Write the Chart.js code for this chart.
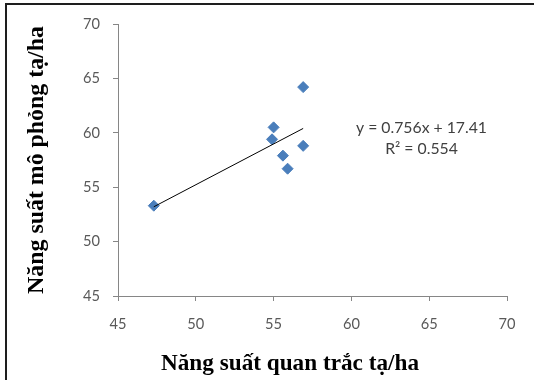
<!DOCTYPE html>
<html><head><meta charset="utf-8">
<script src="https://cdn.jsdelivr.net/npm/chart.js@4"></script>
<style>
html,body{margin:0;padding:0;background:#fff;}
#wrap{position:relative;width:534px;height:380px;overflow:hidden;background:#fff;}
#frame{position:absolute;left:5px;top:3px;width:700px;height:600px;border-left:2px solid #1e1e1e;border-top:2px solid #1e1e1e;pointer-events:none;}
canvas{position:absolute;left:0;top:0;}
</style></head><body>
<div id="wrap"><canvas id="c" width="534" height="380"></canvas><div id="frame"></div></div>
<script>
// Data
const observedYield  = [47.3, 55.0, 54.9, 55.6, 55.9, 56.9, 56.9];   // Năng suất quan trắc (x)
const simulatedYield = [53.3, 60.5, 59.4, 57.9, 56.7, 58.8, 64.2];   // Năng suất mô phỏng (y)
const trendX = [47.3, 56.9];   // trendline end points
const trendY = [53.2, 60.4];
const xTicks = [45, 50, 55, 60, 65, 70];
const yTicks = [45, 50, 55, 60, 65, 70];
const xTitle = 'Năng suất quan trắc tạ/ha';
const yTitle = 'Năng suất mô phỏng tạ/ha';
const equationLines = ['y = 0.756x + 17.41', 'R² = 0.554'];

const points = observedYield.map((x, i) => ({x: x, y: simulatedYield[i]}));
const trend = trendX.map((x, i) => ({x: x, y: trendY[i]}));

const mctx = document.createElement('canvas').getContext('2d');
function fitSize(text, weight, family, target) {
  mctx.font = weight + ' 100px ' + family;
  return 100 * target / mctx.measureText(text).width;
}
const SANS = 'Lato, "Open Sans", sans-serif';
const SERIF = '"Liberation Serif", "DejaVu Serif", serif';
const tickSize = fitSize('45', 'normal', SANS, 17);
const eqSize = fitSize(equationLines[0], 'normal', SANS, 131);
const xTitleSize = fitSize(xTitle, 'bold', SERIF, 258);
const yTitleSize = fitSize(yTitle, 'bold', SERIF, 268);

const axisColor = '#868686';
const labelColor = '#595959';

const annotations = {
  id: 'annotations',
  afterDraw(chart) {
    const ctx = chart.ctx;
    ctx.save();
    ctx.fillStyle = '#404040';
    ctx.font = eqSize.toFixed(2) + 'px ' + SANS;
    ctx.textAlign = 'center';
    ctx.textBaseline = 'middle';
    ctx.fillText(equationLines[0], 421.5, 128);
    ctx.fillText(equationLines[1], 421.5, 149);
    ctx.fillStyle = '#000';
    ctx.font = 'bold ' + xTitleSize.toFixed(2) + 'px ' + SERIF;
    ctx.textBaseline = 'alphabetic';
    ctx.fillText(xTitle, 290, 370);
    ctx.restore();
  }
};

new Chart(document.getElementById('c'), {
  type: 'scatter',
  data: {
    datasets: [
      {
        label: 'trend',
        data: trend,
        showLine: true,
        borderColor: '#000',
        borderWidth: 1,
        pointRadius: 0,
        fill: false,
        order: 0
      },
      {
        label: 'yield',
        data: points,
        pointStyle: 'rectRot',
        pointRadius: 5.5,
        pointHoverRadius: 5.5,
        backgroundColor: '#4A7EBB',
        borderColor: '#4A7EBB',
        borderWidth: 1,
        order: 1
      }
    ]
  },
  options: {
    responsive: false,
    animation: false,
    events: [],
    layout: {padding: {left: 0, top: 24, right: 27, bottom: 0}},
    plugins: {legend: {display: false}, tooltip: {enabled: false}},
    scales: {
      x: {
        type: 'linear',
        min: 45, max: 70,
        afterBuildTicks: s => { s.ticks = xTicks.map(v => ({value: v})); },
        afterFit: s => { s.height = 84; },
        ticks: {color: labelColor, font: {family: SANS, size: tickSize}, padding: 14},
        grid: {display: true, drawOnChartArea: false, drawTicks: true, tickLength: 5, color: axisColor, lineWidth: 1},
        border: {display: true, color: axisColor, width: 1}
      },
      y: {
        type: 'linear',
        min: 45, max: 70,
        afterBuildTicks: s => { s.ticks = yTicks.map(v => ({value: v})); },
        afterFit: s => { s.width = 118; },
        ticks: {color: labelColor, font: {family: SANS, size: tickSize}, padding: 13},
        grid: {display: true, drawOnChartArea: false, drawTicks: true, tickLength: 5, color: axisColor, lineWidth: 1},
        border: {display: true, color: axisColor, width: 1},
        title: {display: true, text: yTitle, color: '#000',
                font: {family: SERIF, size: yTitleSize, weight: 'bold', lineHeight: 1},
                padding: {top: 37 - yTitleSize / 2, bottom: 0}}
      }
    }
  },
  plugins: [annotations]
});
</script>
</body></html>
